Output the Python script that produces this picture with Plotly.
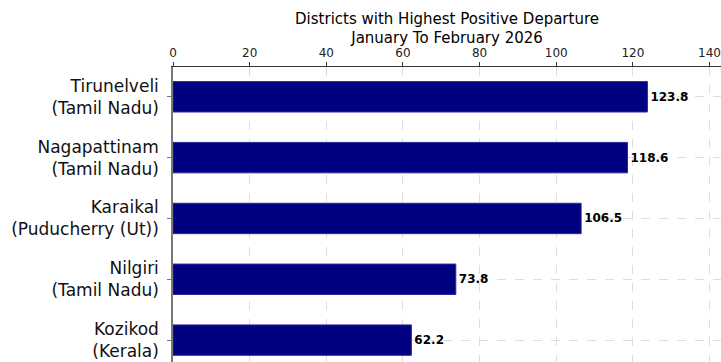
import plotly.graph_objects as go

# Data
districts = ["Tirunelveli<br>(Tamil Nadu)", "Nagapattinam<br>(Tamil Nadu)",
             "Karaikal<br>(Puducherry (Ut))", "Nilgiri<br>(Tamil Nadu)",
             "Kozikod<br>(Kerala)"]
departure = [123.8, 118.6, 106.5, 73.8, 62.2]
x_ticks = [0, 20, 40, 60, 80, 100, 120, 140]

FONT = "DejaVu Sans, sans-serif"

fig = go.Figure(go.Bar(
    x=departure,
    y=list(range(len(districts))),
    orientation='h',
    width=0.5,
    marker=dict(color='#000080', line=dict(color='#2a2a9a', width=1)),
    text=[f'{v:.1f}' for v in departure],
    textposition='outside',
    textfont=dict(family=FONT, size=12, color='black', weight='bold'),
    cliponaxis=False,
))

fig.update_layout(
    width=721, height=362,
    margin=dict(l=173, r=0, t=67, b=0),
    paper_bgcolor='white',
    plot_bgcolor='white',
    showlegend=False,
    font=dict(family=FONT, color='black'),
    title=dict(
        text='Districts with Highest Positive Departure<br>January To February 2026',
        x=0.62, xanchor='center', y=0.934, yanchor='bottom',
        font=dict(family=FONT, size=15, color='black'),
    ),
    xaxis=dict(
        side='top', range=[0, 143], tickvals=x_ticks,
        showline=True, linecolor='#333333', linewidth=1,
        ticks='outside', ticklen=4, tickcolor='#333333',
        tickfont=dict(size=12, color='#222222'),
        showgrid=True, gridcolor='#dddddd', griddash='dash', gridwidth=1,
        zeroline=False, automargin=False,
    ),
    yaxis=dict(
        range=[4.36, -0.49],
        tickvals=list(range(len(districts))), ticktext=districts,
        showline=True, linecolor='#777777', linewidth=1.5,
        ticks='outside', ticklen=4, tickcolor='#777777',
        ticklabelstandoff=5,
        tickfont=dict(size=17, color='#111111'),
        showgrid=True, gridcolor='#dddddd', griddash='dash', gridwidth=1,
        zeroline=False, automargin=False,
    ),
)

# drop the default 8px page margin so the figure fills the window exactly
fig.write_html("out.html", config={'displayModeBar': False},
               post_script="document.body.style.margin = '0';")
